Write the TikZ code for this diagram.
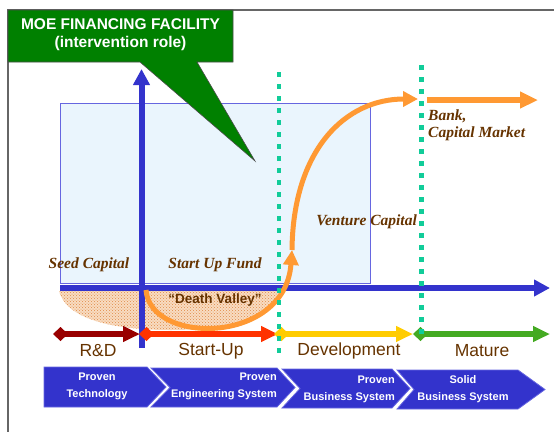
\documentclass[tikz,border=0pt]{standalone}
\usepackage{fontspec}
\setmainfont{Liberation Serif}
\setsansfont{Liberation Sans}
\usetikzlibrary{arrows.meta,patterns}
\tikzset{>={Triangle[width=16pt,length=16pt]}}
\definecolor{moegreen}{HTML}{008000}
\definecolor{axisblue}{HTML}{3333CC}
\definecolor{zonefill}{HTML}{EAF5FD}
\definecolor{zoneline}{HTML}{6666E0}
\definecolor{valley}{HTML}{E08A45}
\definecolor{valleytint}{HTML}{F8DCC2}
\definecolor{flow}{HTML}{FF9933}
\definecolor{gate}{HTML}{11CC99}
\definecolor{labelbrown}{HTML}{663300}
\definecolor{rdred}{HTML}{990000}
\definecolor{startred}{HTML}{FF3300}
\definecolor{devyellow}{HTML}{FFCC00}
\definecolor{maturegreen}{HTML}{44AA22}
\definecolor{framegray}{HTML}{666666}

\begin{document}
\begin{tikzpicture}[x=1pt,y=-1pt]
    \tikzset{axis/.style={draw=axisblue,line width=6pt}}
    \tikzset{stage/.style={line width=6pt,{Turned Square[length=15pt,width=14pt]}-{Triangle[length=17pt,width=15pt]}}}
    \tikzset{phase/.style={font=\sffamily\fontsize{17.5}{20}\selectfont,text=labelbrown}}
    \tikzset{fund/.style={font=\bfseries\itshape\fontsize{15.5}{17}\selectfont,text=labelbrown,inner sep=0pt}}
    \tikzset{flowarrow/.style={draw=flow,line width=5pt,-{Triangle[length=15pt,width=15pt]}}}
    \tikzset{gateline/.style={draw=gate,line width=4.5pt,dash pattern=on 4.5pt off 7.5pt}}
    \tikzset{chevron/.style={fill=axisblue,draw=zoneline,line width=0.8pt}}
    \tikzset{chevtext/.style={text=white,font=\sffamily\bfseries\fontsize{11}{17}\selectfont,inner sep=0pt}}
    \tikzset{calloutbox/.style={fill=moegreen,draw=black!70,line width=0.6pt}}
    \tikzset{callouttext/.style={text=white,font=\sffamily\bfseries\fontsize{15.5}{19}\selectfont,inner sep=0pt}}
    \useasboundingbox (0,0) rectangle (554,432);
    \draw[framegray,line width=1.2pt] (554,10) -- (8,10) -- (8,432);
    \draw[fill=zonefill,draw=zoneline,line width=1pt] (60,103) rectangle (370,283);
    \fill[valleytint] (59,291) .. controls (66,318) and (110,330) .. (170,330) .. controls (230,330) and (272,318) .. (279,291) -- cycle;
    \fill[pattern=crosshatch dots,pattern color=valley] (59,291) .. controls (66,318) and (110,330) .. (170,330) .. controls (230,330) and (272,318) .. (279,291) -- cycle;
    \draw[calloutbox] (8,10) -- (233,10) -- (233,62) -- (197,62) -- (255,161) -- (140,62) -- (8,62) -- cycle;
    \draw (120.5,24) node[callouttext](moe){MOE FINANCING FACILITY};
    \draw (120.5,43.5) node[callouttext](role){(intervention role)};

    \coordinate (vbot) at (141.5,348);
    \coordinate (vtop) at (141.5,69);
    \coordinate (hleft) at (60,288);
    \coordinate (hright) at (550,288);
    \draw[axis,->] (vbot) -- (vtop);
    \draw[axis,->] (hleft) -- (hright);

    \coordinate (dip) at (146,290);
    \coordinate (rise) at (292,250);
    \coordinate (bank) at (418,99);
    \coordinate (mkt0) at (427,100);
    \coordinate (mkt1) at (538,100);
    \draw[flowarrow] (dip) .. controls (150,345) and (285,345) .. (rise);
    \draw[flowarrow] (rise) .. controls (293,150) and (345,99) .. (bank);
    \draw[flowarrow,line width=6pt,-{Triangle[length=18pt,width=16pt]}] (mkt0) -- (mkt1);

    \coordinate (rd0) at (53,334);
    \coordinate (rd1) at (140,334);
    \coordinate (su0) at (139,334);
    \coordinate (su1) at (278,334);
    \coordinate (dev0) at (274,334);
    \coordinate (dev1) at (413,334);
    \coordinate (mat0) at (413,334);
    \coordinate (mat1) at (550,334);
    \draw[stage,draw=rdred] (rd0) -- (rd1);
    \draw[stage,draw=startred] (su0) -- (su1);
    \draw[stage,draw=devyellow] (dev0) -- (dev1);
    \draw[stage,draw=maturegreen] (mat0) -- (mat1);

    \coordinate (g1top) at (279,72);
    \coordinate (g1bot) at (279,354);
    \coordinate (g2top) at (421.5,65);
    \coordinate (g2bot) at (421.5,341);
    \draw[gateline] (g1top) -- (g1bot);
    \draw[gateline] (g2top) -- (g2bot);

    \draw (89,265) node[fund](seed){Seed Capital};
    \draw (215,265) node[fund](sufund){Start Up Fund};
    \draw (417,222) node[fund,anchor=east](venture){Venture Capital};
    \draw (428,125.5) node[fund,anchor=west,align=left](market){Bank,\\Capital Market};
    \draw (215,300) node[font=\sffamily\bfseries\fontsize{13.5}{16}\selectfont,text=labelbrown](valley){“Death Valley”};

    \draw (98,351) node[phase](rd){R\&D};
    \draw (211,351) node[phase](su){Start-Up};
    \draw (349,351) node[phase](dev){Development};
    \draw (482,351) node[phase](mat){Mature};

    \draw[chevron] (44,367) -- (147,367) -- (166,387) -- (147,407) -- (44,407) -- cycle;
    \draw[chevron] (151,368) -- (277,368) -- (295,387.5) -- (277,407) -- (151,407) -- (170,387.5) -- cycle;
    \draw[chevron] (282,369) -- (392,369) -- (410,388.5) -- (392,408) -- (282,408) -- (300,388.5) -- cycle;
    \draw[chevron] (397,370) -- (518,370) -- (545,389.5) -- (518,409) -- (397,409) -- (414,389.5) -- cycle;
    \draw (97,386.5) node[chevtext,align=center](tech){Proven\\Technology};
    \draw (277,386.5) node[chevtext,align=right,anchor=east](eng){Proven\\Engineering System};
    \draw (395,389) node[chevtext,align=right,anchor=east](biz){Proven\\Business System};
    \draw (463,389.5) node[chevtext,align=center](solid){Solid\\Business System};
\end{tikzpicture}
\end{document}
